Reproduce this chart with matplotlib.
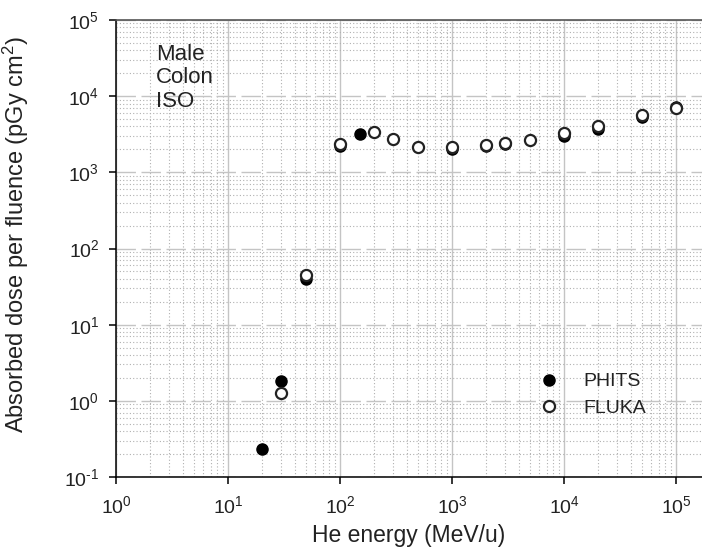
import math
import matplotlib
matplotlib.use("Agg")
import matplotlib.pyplot as plt
from matplotlib.ticker import LogLocator, NullFormatter, FuncFormatter

plt.rcParams['font.family'] = ['Liberation Sans', 'DejaVu Sans']
plt.rcParams['mathtext.fontset'] = 'custom'
plt.rcParams['mathtext.rm'] = 'Liberation Sans'
plt.rcParams['mathtext.it'] = 'Liberation Sans:italic'
plt.rcParams['axes.unicode_minus'] = False

# He energy (MeV/u) and absorbed dose per fluence (pGy cm^2), male colon, ISO geometry
phits_energy = [20, 30, 50, 100, 150, 1000, 2000, 3000, 10000, 20000, 50000, 100000]
phits_dose = [0.23, 1.8, 40, 2200, 3150, 2050, 2200, 2350, 3000, 3700, 5300, 7300]

fluka_energy = [30, 50, 100, 200, 300, 500, 1000, 2000, 3000, 5000, 10000, 20000, 50000, 100000]
fluka_dose = [1.28, 45, 2350, 3420, 2720, 2170, 2150, 2300, 2450, 2620, 3300, 4000, 5650, 6900]

annotation_lines = ["Male", "Colon", "ISO"]
x_label = "He energy (MeV/u)"
y_label = "Absorbed dose per fluence (pGy cm$^2$)"

W, H = 702, 551
fig = plt.figure(figsize=(W / 100, H / 100), dpi=100)
left, right, top, bottom = 116, 702, 20, 477
ax = fig.add_axes([left / W, 1 - bottom / H, (right - left) / W, (bottom - top) / H])

ax.set_xscale('log')
ax.set_yscale('log')
ax.set_xlim(1, 10 ** ((right - left) / 112.0))
ax.set_ylim(0.1, 1e5)


def power_label(value, pos):
    exp = int(round(math.log10(value)))
    if exp < 0:
        return r"$\mathdefault{10^{\text{-}%d}}$" % (-exp)
    return r"$\mathdefault{10^{%d}}$" % exp


ax.xaxis.set_major_formatter(FuncFormatter(power_label))
ax.yaxis.set_major_formatter(FuncFormatter(power_label))

# grid: solid major verticals, dashed major horizontals, dotted minors
ax.xaxis.set_minor_locator(LogLocator(base=10, subs=range(2, 10), numticks=20))
ax.yaxis.set_minor_locator(LogLocator(base=10, subs=range(2, 10), numticks=20))
ax.xaxis.set_minor_formatter(NullFormatter())
ax.yaxis.set_minor_formatter(NullFormatter())
ax.grid(True, axis='x', which='major', color='#c4c4c4', lw=1.0, ls='-')
ax.grid(True, axis='y', which='major', color='#c4c4c4', lw=1.0, ls=(0, (14, 4)))
ax.grid(True, which='minor', color='#b0b0b0', lw=0.8, ls=(0, (1, 2)))
ax.set_axisbelow(True)

ax.spines['right'].set_visible(False)
ax.spines['top'].set_color('#555555')
ax.spines['top'].set_linewidth(1.2)
ax.spines['left'].set_linewidth(1.1)
ax.spines['bottom'].set_linewidth(1.1)

ax.tick_params(which='major', direction='out', length=5, width=1.1, labelsize=14,
               labelcolor='#222222')
ax.tick_params(axis='x', which='major', pad=8)
ax.tick_params(axis='y', which='major', pad=7)
ax.tick_params(which='minor', length=0)
ax.xaxis.set_ticks_position('bottom')
ax.yaxis.set_ticks_position('left')

ax.plot(phits_energy, phits_dose, ls='none', marker='o', ms=8,
        mfc='black', mec='black', mew=1.0, label='PHITS', zorder=3)
ax.plot(fluka_energy, fluka_dose, ls='none', marker='o', ms=8,
        mfc='white', mec='#222222', mew=1.6, label='FLUKA', zorder=4)

ax.text(0.068, 0.948, "\n".join(annotation_lines), transform=ax.transAxes,
        ha='left', va='top', fontsize=16, linespacing=1.15, color='#222222')

ax.legend(loc='upper left', bbox_to_anchor=(0.722, 0.228), frameon=False,
          fontsize=14, handlelength=1.0, handletextpad=1.3, labelspacing=0.45,
          borderpad=0, borderaxespad=0, labelcolor='#222222')

ax.set_xlabel(x_label, fontsize=16.5, labelpad=5, color='#222222')
ax.set_ylabel(y_label, fontsize=17, labelpad=10, color='#222222')
ax.yaxis.set_label_coords(-0.145, 0.53)

fig.savefig("out.png", dpi=100)
